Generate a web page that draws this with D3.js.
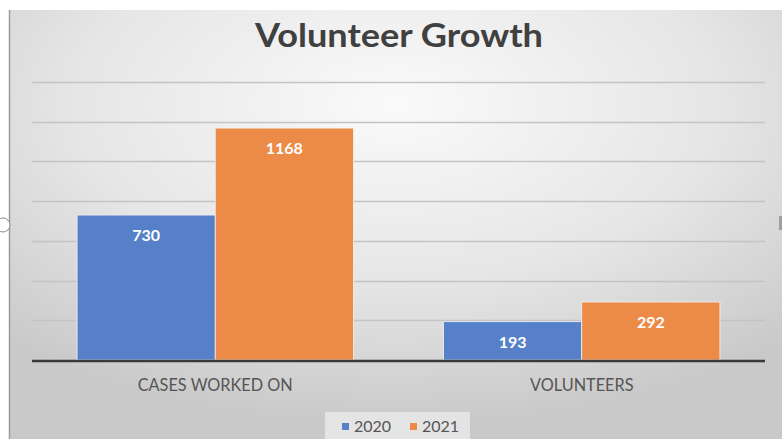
<!DOCTYPE html>
<html>
<head>
<meta charset="utf-8">
<script src="https://cdn.jsdelivr.net/npm/d3@7"></script>
<style>
  html, body { margin: 0; padding: 0; background: #fff; }
  svg { display: block; }
</style>
</head>
<body>
<div id="vis"></div>
<script>
// daten
var categories = ["CASES WORKED ON", "VOLUNTEERS"];
var years = ["2020", "2021"];
var values2020 = [730, 193];
var values2021 = [1168, 292];
var yTicks = [0, 200, 400, 600, 800, 1000, 1200, 1400];

var width = 782;
var height = 439;
var colors = { "2020": "#5680C8", "2021": "#EC8B47" };

var svg = d3.select("#vis").append("svg")
    .attr("width", width)
    .attr("height", height);

// hintergrund (radialer verlauf wie im excel-screenshot)
var defs = svg.append("defs");
var grad = defs.append("radialGradient")
    .attr("id", "bg")
    .attr("cx", "50%").attr("cy", "22%")
    .attr("r", "75%");
grad.append("stop").attr("offset", "0%").attr("stop-color", "#fafafa");
grad.append("stop").attr("offset", "55%").attr("stop-color", "#e6e6e6");
grad.append("stop").attr("offset", "100%").attr("stop-color", "#c9c9c9");

svg.append("rect")
    .attr("x", 9).attr("y", 10)
    .attr("width", width - 9).attr("height", height - 10)
    .style("fill", "url(#bg)");

// linker rand
svg.append("line")
    .attr("x1", 9.5).attr("y1", 10)
    .attr("x2", 9.5).attr("y2", height)
    .style("stroke", "#9a9a9a")
    .style("stroke-width", 1.5);

// griffe
svg.append("circle").attr("cx", 3).attr("cy", 225).attr("r", 7)
    .style("fill", "#fff").style("stroke", "#8a8a8a").style("stroke-width", 1);
svg.append("rect").attr("x", 779).attr("y", 216).attr("width", 3).attr("height", 14)
    .style("fill", "#a0a0a0");

// titel
svg.append("text")
    .attr("x", 399)
    .attr("y", 47)
    .attr("text-anchor", "middle")
    .attr("textLength", 288)
    .attr("lengthAdjust", "spacingAndGlyphs")
    .style("font-family", "Lato, 'Open Sans', sans-serif")
    .style("font-weight", "bold")
    .style("font-size", "33px")
    .style("fill", "#404040")
    .text("Volunteer Growth");

var x0 = d3.scaleBand()
    .domain(categories)
    .range([32, 765])
    .paddingInner(0.246)
    .paddingOuter(0.123);

var x1 = d3.scaleBand()
    .domain(years)
    .range([0, x0.bandwidth()]);

var y = d3.scaleLinear()
    .domain([0, 1400])
    .range([360, 82]);

// gitterlinien
svg.append("g").selectAll("line")
    .data(yTicks.slice(1))
    .enter().append("line")
    .attr("x1", 32)
    .attr("x2", 765)
    .attr("y1", function(d) { return Math.round(y(d)) + 0.5; })
    .attr("y2", function(d) { return Math.round(y(d)) + 0.5; })
    .style("stroke", "#c4c4c4")
    .style("stroke-width", 1.3);

var rows = categories.map(function(c, i) {
  return { cat: c, vals: [
    { year: "2020", value: values2020[i] },
    { year: "2021", value: values2021[i] }
  ] };
});

var groups = svg.append("g").selectAll("g")
    .data(rows)
    .enter().append("g")
    .attr("transform", function(d) { return "translate(" + x0(d.cat) + ",0)"; });

groups.selectAll("rect")
    .data(function(d) { return d.vals; })
    .enter().append("rect")
    .attr("x", function(d) { return x1(d.year); })
    .attr("y", function(d) { return y(d.value); })
    .attr("width", x1.bandwidth())
    .attr("height", function(d) { return y(0) - y(d.value); })
    .style("fill", function(d) { return colors[d.year]; })
    .style("stroke", "#f2f2f2")
    .style("stroke-width", 0.8);

// werte in den balken
groups.selectAll("text.val")
    .data(function(d) { return d.vals; })
    .enter().append("text")
    .attr("class", "val")
    .attr("x", function(d) { return x1(d.year) + x1.bandwidth() / 2; })
    .attr("y", function(d) { return y(d.value) + 26; })
    .attr("text-anchor", "middle")
    .style("font-family", "Lato, 'Open Sans', sans-serif")
    .style("font-weight", "bold")
    .style("font-size", "16px")
    .style("fill", "#ffffff")
    .text(function(d) { return d.value; });

// x-achse
svg.append("line")
    .attr("x1", 32).attr("x2", 765)
    .attr("y1", y(0) + 1).attr("y2", y(0) + 1)
    .style("stroke", "#3a3a3a")
    .style("stroke-width", 2.5);

svg.append("g").selectAll("text")
    .data(categories)
    .enter().append("text")
    .attr("x", function(d) { return x0(d) + x0.bandwidth() / 2; })
    .attr("y", 391)
    .attr("text-anchor", "middle")
    .style("font-family", "Lato, 'Open Sans', sans-serif")
    .style("font-size", "16.3px")
    .style("fill", "#555555")
    .text(function(d) { return d; });

// legende
var legend = svg.append("g");
legend.append("rect")
    .attr("x", 325).attr("y", 412)
    .attr("width", 145).attr("height", 27)
    .style("fill", "#e4e4e4");

var legendX = [342, 410];
years.forEach(function(yr, i) {
  legend.append("rect")
      .attr("x", legendX[i]).attr("y", 423)
      .attr("width", 7).attr("height", 7)
      .style("fill", colors[yr]);
  legend.append("text")
      .attr("x", legendX[i] + 12)
      .attr("y", 432)
      .style("font-family", "Lato, 'Open Sans', sans-serif")
      .style("font-size", "16px")
      .style("fill", "#555555")
      .text(yr);
});
</script>
</body>
</html>
